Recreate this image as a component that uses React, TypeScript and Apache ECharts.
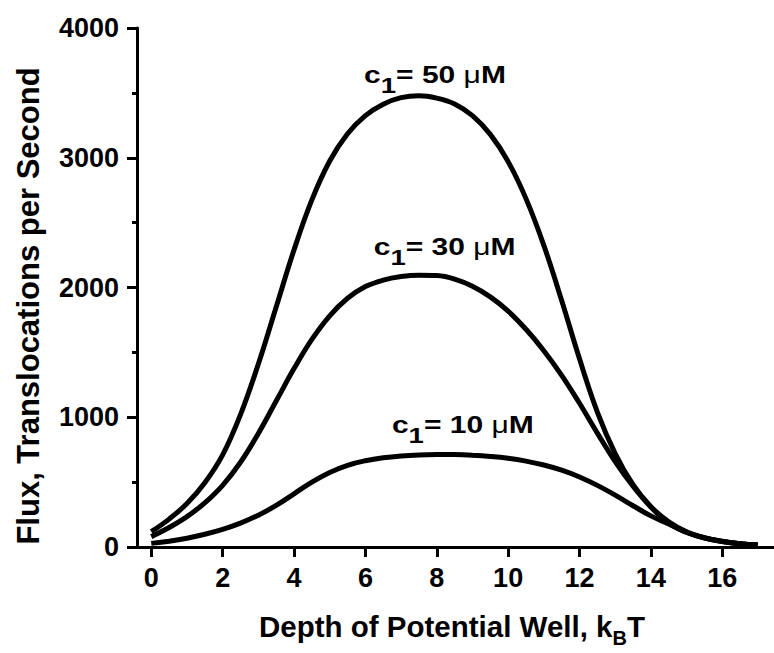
import React, { useEffect, useRef } from "react";
import * as echarts from "echarts";

// Depth of potential well (kBT)
const depth = [0, 0.5, 1, 1.5, 2, 2.5, 3, 3.5, 4, 4.5, 5, 5.5, 6, 6.5, 7, 7.5, 8, 8.5, 9, 9.5, 10, 10.5, 11, 11.5, 12, 12.5, 13, 13.5, 14, 14.5, 15, 15.5, 16, 16.5, 17];
// Flux, translocations per second
const flux50 = [118, 215, 335, 495, 710, 1020, 1410, 1850, 2290, 2675, 2975, 3185, 3325, 3413, 3463, 3478, 3460, 3415, 3325, 3180, 2970, 2685, 2325, 1900, 1450, 1040, 720, 480, 310, 195, 118, 72, 44, 26, 15];
const flux30 = [80, 150, 234, 340, 475, 653, 875, 1125, 1375, 1600, 1782, 1917, 2007, 2057, 2084, 2095, 2092, 2065, 2010, 1928, 1818, 1678, 1513, 1323, 1108, 878, 658, 468, 308, 183, 114, 70, 43, 25, 15];
const flux10 = [28, 45, 68, 98, 136, 184, 245, 320, 410, 500, 575, 630, 665, 688, 702, 710, 713, 712, 707, 698, 684, 662, 632, 592, 540, 475, 400, 318, 240, 178, 112, 69, 42, 25, 15];

const xTicks = [0, 2, 4, 6, 8, 10, 12, 14, 16];
const concentrations = ["50", "30", "10"];
// annotation centres in data coordinates [depth, flux]
const labelAnchors: number[][] = [[7.95, 3638], [8.22, 2312], [8.73, 940]];

const FONT = "'Liberation Sans', Arial, Helvetica, sans-serif";

export default function App() {
  const ref = useRef<HTMLDivElement>(null);
  useEffect(() => {
    document.body.style.margin = "0";
    if (!ref.current) return;
    const chart = echarts.init(ref.current, null, { renderer: "svg" });
    const mk = (vals: number[], name: string) => ({
      type: "line",
      name,
      data: depth.map((d, i) => [d, vals[i]]),
      showSymbol: false,
      symbol: "none",
      smooth: 0.4,
      lineStyle: { color: "#000", width: 5 },
      z: 3,
    });
    chart.setOption({
      animation: false,
      backgroundColor: "#fff",
      textStyle: { fontFamily: FONT },
      grid: { left: 137, right: 0, top: 28, bottom: 106, outerBoundsMode: "none" },
      xAxis: {
        type: "value",
        min: -0.4,
        max: 17.45,
        axisLine: { onZero: false, lineStyle: { color: "#000", width: 3 } },
        axisTick: { customValues: xTicks, length: 10, lineStyle: { color: "#000", width: 3 } },
        axisLabel: { customValues: xTicks, fontSize: 27, fontWeight: "bold", color: "#000", margin: 17, fontFamily: FONT },
        splitLine: { show: false },
      },
      yAxis: {
        type: "value",
        min: 0,
        max: 4000,
        interval: 1000,
        axisLine: { show: true, onZero: false, lineStyle: { color: "#000", width: 3 } },
        axisTick: { show: true, length: 10, lineStyle: { color: "#000", width: 3 } },
        minorTick: { show: true, splitNumber: 2, length: 5, lineStyle: { color: "#000", width: 3 } },
        axisLabel: {
          fontSize: 27,
          fontWeight: "bold",
          color: "#000",
          margin: 18,
          fontFamily: FONT,
          formatter: (v: number) => String(v),
        },
        splitLine: { show: false },
      },
      series: [mk(flux50, "c1= 50 μM"), mk(flux30, "c1= 30 μM"), mk(flux10, "c1= 10 μM")],
    });

    const annot = labelAnchors.map((a, i) => {
      const p = chart.convertToPixel({ gridIndex: 0 }, a) as number[];
      return {
        type: "text",
        x: p[0],
        y: p[1],
        scaleX: 1.25,
        z: 10,
        style: {
          text: `{m|c}{s|1}{m|= ${concentrations[i]} }{u|μ}{m|M}`,
          align: "center",
          verticalAlign: "middle",
          fill: "#000",
          rich: {
            m: { fontSize: 24, fontWeight: "bold", fontFamily: FONT, lineHeight: 24, fill: "#000" },
            s: { fontSize: 22, fontWeight: "bold", fontFamily: FONT, lineHeight: 22, padding: [20, 0, 0, 0], fill: "#000" },
            u: { fontSize: 24, fontWeight: "normal", fontFamily: FONT, lineHeight: 24, fill: "#000" },
          },
        },
      };
    });

    chart.setOption({
      graphic: [
        {
          type: "text",
          x: 28,
          y: 306,
          rotation: Math.PI / 2,
          style: {
            text: "Flux, Translocations per Second",
            fontSize: 31,
            fontWeight: "bold",
            fontFamily: FONT,
            fill: "#000",
            align: "center",
            verticalAlign: "middle",
          },
        },
        {
          type: "text",
          x: 452,
          y: 626,
          style: {
            text: "{m|Depth of Potential Well, k}{s|B}{m|T}",
            align: "center",
            verticalAlign: "middle",
            fill: "#000",
            rich: {
              m: { fontSize: 29.5, fontWeight: "bold", fontFamily: FONT, lineHeight: 30, fill: "#000" },
              s: { fontSize: 20, fontWeight: "bold", fontFamily: FONT, lineHeight: 20, padding: [24, 0, 0, 0], fill: "#000" },
            },
          },
        },
        ...annot,
      ],
    });
    return () => chart.dispose();
  }, []);
  return <div ref={ref} style={{ position: "absolute", left: 0, top: 0, width: 774, height: 653 }} />;
}
